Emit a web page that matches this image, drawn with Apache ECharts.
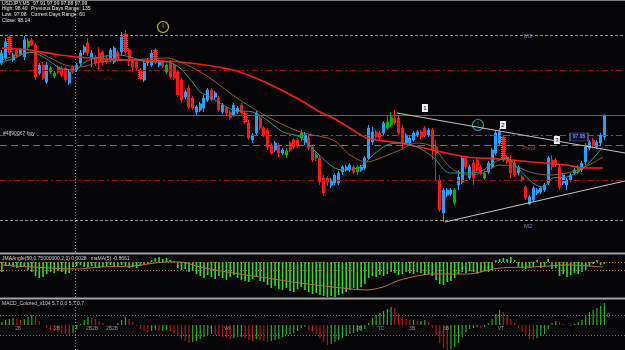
<!DOCTYPE html>
<html><head><meta charset="utf-8">
<script src="https://cdn.jsdelivr.net/npm/echarts/dist/echarts.min.js"></script>
<style>html,body{margin:0;padding:0;background:#050507;}#c{width:625px;height:350px;}</style>
</head><body><div id="c"></div>
<script>
// ---- USDJPY M5 candles ----
const open = [
98.094,98.104,98.146,98.100,98.120,98.112,98.106,98.126,98.140,98.130,
98.074,98.090,98.056,98.076,98.068,98.086,98.084,98.084,98.054,98.086,
98.080,98.094,98.116,98.134,98.104,98.106,98.114,98.116,98.104,98.100,
98.096,98.116,98.116,98.152,98.120,98.100,98.096,98.080,98.060,98.094,
98.090,98.120,98.090,98.096,98.076,98.094,98.090,98.076,98.060,98.026,
98.044,98.024,97.996,98.000,98.004,98.020,98.040,98.026,98.024,97.996,
98.004,97.996,97.990,97.996,98.010,97.994,97.974,97.940,97.954,97.984,
97.964,97.960,97.930,97.920,97.930,97.914,97.910,97.934,97.940,97.940,
97.944,97.936,97.944,97.926,97.904,97.904,97.864,97.864,97.850,97.854,
97.854,97.876,97.880,97.880,97.886,97.876,97.880,97.884,97.904,97.936,
97.956,97.954,97.954,97.964,97.970,97.984,97.984,97.964,97.934,97.934,
97.940,97.950,97.956,97.964,97.950,97.960,97.926,97.860,97.794,97.830,
97.832,97.814,97.850,97.856,97.904,97.864,97.894,97.900,97.886,97.864,
97.876,97.886,97.914,97.934,97.946,97.906,97.900,97.894,97.874,97.866,
97.846,97.812,97.820,97.834,97.836,97.840,97.854,97.900,97.900,97.886,
97.854,97.850,97.860,97.874,97.876,97.880,97.896,97.924,97.940,97.926,
97.934,97.946];
const close = [
98.114,98.136,98.114,98.110,98.108,98.120,98.140,98.138,98.130,98.066,
98.090,98.064,98.090,98.084,98.074,98.076,98.070,98.060,98.076,98.076,
98.090,98.114,98.126,98.114,98.114,98.094,98.096,98.094,98.096,98.120,
98.124,98.100,98.146,98.116,98.100,98.086,98.084,98.064,98.094,98.100,
98.114,98.096,98.096,98.088,98.090,98.066,98.064,98.030,98.020,98.036,
98.006,98.004,98.006,98.012,98.024,98.040,98.020,98.034,98.000,98.010,
97.994,97.984,98.010,98.004,97.994,97.976,97.944,97.950,97.994,97.964,
97.950,97.926,97.914,97.934,97.914,97.920,97.918,97.920,97.926,97.928,
97.954,97.950,97.924,97.900,97.910,97.856,97.834,97.856,97.860,97.870,
97.874,97.886,97.886,97.890,97.876,97.886,97.886,97.904,97.964,97.956,
97.946,97.944,97.974,97.976,97.986,97.974,97.954,97.934,97.950,97.944,
97.954,97.956,97.946,97.950,97.960,97.920,97.914,97.800,97.840,97.840,
97.840,97.840,97.866,97.904,97.886,97.886,97.864,97.880,97.874,97.874,
97.894,97.920,97.954,97.956,97.900,97.896,97.874,97.870,97.886,97.860,
97.824,97.826,97.844,97.840,97.844,97.850,97.904,97.886,97.890,97.846,
97.870,97.860,97.870,97.880,97.886,97.894,97.926,97.936,97.930,97.936,
97.950,97.990];
const low = [
98.090,98.100,98.110,98.096,98.104,98.108,98.100,98.120,98.128,98.060,
98.070,98.060,98.052,98.072,98.064,98.072,98.066,98.056,98.050,98.072,
98.076,98.088,98.110,98.108,98.086,98.088,98.080,98.090,98.092,98.096,
98.092,98.096,98.108,98.110,98.088,98.076,98.080,98.060,98.056,98.088,
98.086,98.092,98.086,98.084,98.072,98.062,98.060,98.026,98.014,98.022,
98.002,98.000,97.990,97.996,97.996,98.016,98.016,98.022,97.996,97.992,
97.990,97.980,97.986,97.992,97.990,97.972,97.940,97.934,97.950,97.960,
97.946,97.920,97.910,97.916,97.906,97.910,97.904,97.916,97.922,97.924,
97.938,97.930,97.920,97.896,97.898,97.850,97.828,97.848,97.844,97.850,
97.850,97.870,97.876,97.876,97.872,97.870,97.876,97.880,97.900,97.930,
97.942,97.940,97.950,97.960,97.966,97.970,97.950,97.920,97.930,97.930,
97.936,97.946,97.942,97.946,97.946,97.900,97.860,97.796,97.776,97.826,
97.828,97.810,97.840,97.852,97.882,97.860,97.850,97.876,97.870,97.860,
97.872,97.882,97.910,97.928,97.896,97.892,97.864,97.866,97.870,97.856,
97.820,97.810,97.816,97.830,97.832,97.836,97.850,97.880,97.886,97.840,
97.850,97.840,97.856,97.870,97.872,97.876,97.890,97.920,97.926,97.922,
97.930,97.940];
const high = [
98.120,98.144,98.150,98.114,98.124,98.124,98.148,98.144,98.144,98.134,
98.094,98.096,98.096,98.088,98.078,98.090,98.088,98.088,98.080,98.090,
98.094,98.120,98.130,98.144,98.120,98.110,98.126,98.120,98.110,98.124,
98.128,98.120,98.156,98.160,98.124,98.104,98.100,98.084,98.100,98.104,
98.120,98.124,98.100,98.100,98.094,98.100,98.094,98.080,98.064,98.040,
98.050,98.028,98.010,98.016,98.030,98.044,98.044,98.038,98.028,98.014,
98.008,98.000,98.014,98.008,98.014,97.998,97.980,97.954,98.000,97.988,
97.968,97.964,97.934,97.938,97.934,97.924,97.924,97.938,97.944,97.944,
97.960,97.956,97.948,97.930,97.916,97.908,97.870,97.868,97.864,97.874,
97.878,97.890,97.890,97.894,97.890,97.890,97.890,97.908,97.970,97.966,
97.960,97.958,97.978,97.990,97.996,98.000,97.990,97.970,97.954,97.948,
97.958,97.960,97.960,97.968,97.964,97.964,97.940,97.870,97.844,97.844,
97.844,97.844,97.880,97.908,97.908,97.890,97.900,97.904,97.890,97.878,
97.898,97.924,97.960,97.964,97.950,97.910,97.910,97.898,97.890,97.870,
97.850,97.830,97.848,97.844,97.848,97.854,97.908,97.910,97.904,97.890,
97.874,97.864,97.874,97.884,97.890,97.898,97.934,97.940,97.944,97.940,
97.954,97.990];
const greenBars = [7,13,14,44,76,80,84,95,103,104,121,129,154];
const ladderBars = [2,33,37,41,65,134];

// moving averages read as [bar index, price]
const maSlow = [[0,98.124],[7.5,98.120],[15.5,98.110],[23.5,98.104],[34.2,98.100],[47.6,98.096],[61.8,98.080],[70.8,98.054],[79.7,98.020],[85,97.996],[88.5,97.984],[93,97.964],[97.5,97.944],[106.4,97.934],[115.2,97.920],[124.3,97.906],[133.1,97.902],[141.9,97.896],[151,97.890],[155.3,97.884],[160.6,97.884]];
const maMid = [[0,98.100],[3.5,98.108],[8.9,98.116],[12.9,98.104],[16.9,98.090],[20.9,98.086],[26.2,98.096],[34.2,98.100],[44.1,98.104],[49.5,98.090],[53,98.076],[55.6,98.064],[63.6,98.020],[71.6,97.984],[79.7,97.956],[88.5,97.940],[93,97.910],[97.5,97.896],[101.8,97.906],[106.4,97.920],[110.9,97.934],[115.2,97.926],[119.7,97.886],[124.3,97.870],[128.5,97.874],[133.1,97.890],[137.6,97.886],[141.9,97.874],[146.4,97.870],[151,97.874],[155.3,97.884],[160.6,97.906]];
const maFast = [[0,98.096],[3.5,98.104],[7.5,98.116],[11.5,98.104],[15.5,98.084],[19.5,98.080],[22.2,98.096],[26.2,98.106],[31.6,98.110],[34.2,98.106],[39.6,98.096],[44.1,98.096],[47.6,98.084],[51.1,98.054],[53,98.036],[55.6,98.026],[61.8,98.000],[67.1,97.996],[70.8,97.980],[75.1,97.956],[79.7,97.946],[84.2,97.914],[88.5,97.886],[91.1,97.880],[95.7,97.886],[99.2,97.910],[102.9,97.930],[106.4,97.934],[110.9,97.926],[115.2,97.906],[119.7,97.874],[124.3,97.874],[127.7,97.876],[131.2,97.894],[135,97.904],[137.6,97.886],[141.9,97.854],[144.6,97.846],[147.2,97.864],[151,97.866],[154.5,97.880],[157.1,97.896],[160.6,97.926]];
const trendUpper = [[105.6,97.994],[166.5,97.914]];
const trendLower = [[118.4,97.776],[166.5,97.858]];
const levels = {m3:98.154, r1:98.080, bid:97.990, buy:97.946, pivot:97.930, s1:97.856, m2:97.776};

// JMA angle histogram + its MA
const jma = [
-1.0,-0.4,-0.3,-0.5,-0.6,-0.5,-0.4,-0.8,-1.0,-1.4,
-1.6,-1.5,-1.2,-1.0,-1.1,-0.9,-1.0,-1.2,-1.1,-0.5,
-0.4,-0.3,-0.5,-0.6,-0.4,-0.5,-0.6,-0.5,-0.4,-0.3,
-0.5,-0.4,-0.3,-0.4,-0.6,-0.5,-0.6,-0.4,-0.3,-0.2,
0.2,0.4,0.5,0.3,0.4,0.2,0.1,-0.6,-0.8,-0.7,
-1.0,-0.9,-1.2,-1.4,-1.6,-1.3,-1.5,-1.7,-1.4,-1.6,
-1.8,-1.5,-1.3,-1.6,-1.8,-1.9,-2.0,-1.7,-1.5,-1.9,
-2.0,-2.3,-2.6,-2.4,-2.7,-2.8,-2.6,-2.9,-3.0,-2.7,
-2.5,-2.8,-3.0,-3.2,-3.1,-3.3,-3.4,-3.5,-3.4,-3.5,
-3.3,-3.2,-3.0,-2.8,-2.6,-2.7,-2.5,-2.2,-1.6,-1.4,
-1.5,-1.3,-1.4,-1.2,-1.0,-1.1,-1.3,-1.2,-1.0,-1.1,
-1.2,-1.0,-1.1,-1.3,-1.2,-1.4,-1.8,-2.2,-2.3,-2.0,
-1.9,-1.6,-1.2,-1.0,-1.1,-0.9,-1.0,-1.2,-1.0,-0.9,
-1.0,-0.8,0.2,0.3,0.4,0.3,0.5,0.2,-0.5,-0.6,
-0.7,-0.6,-0.5,0.2,-0.6,-0.5,0.3,-0.7,-0.6,-1.4,
-1.2,-1.5,-1.3,-1.1,-1.2,-1.0,-0.8,-0.4,-0.2,0.2,
-0.3,-0.2];
const jmaMA = [[0,-0.3],[8.3,-0.5],[20.1,-0.7],[26.2,-0.5],[35,-0.4],[44.1,0],[47.6,0],[53,-0.5],[61.8,-1.1],[70.8,-1.6],[79.7,-2.1],[88.5,-2.5],[97.5,-2.8],[101.8,-2.5],[106.4,-1.8],[115.2,-1.2],[124.3,-1.2],[133.1,-0.6],[141.9,-0.5],[151,-0.3],[160.6,-0.5]];
const jmaLevels = [0, -0.8];

// MACD histogram
const macd = [
0.003,0.005,0.006,0.007,0.006,0.005,0.006,0.008,0.010,0.009,
0.004,0.000,-0.003,-0.005,-0.006,-0.007,-0.008,-0.009,-0.010,-0.008,
-0.004,0.001,0.005,0.008,0.007,0.006,0.004,0.002,0.000,-0.001,
0.000,0.002,0.005,0.008,0.006,0.003,-0.001,-0.004,-0.006,-0.007,
-0.006,-0.005,-0.006,-0.006,-0.005,-0.006,-0.008,-0.011,-0.014,-0.016,
-0.018,-0.017,-0.016,-0.014,-0.012,-0.010,-0.009,-0.010,-0.011,-0.012,
-0.013,-0.014,-0.013,-0.012,-0.012,-0.013,-0.015,-0.016,-0.014,-0.015,
-0.016,-0.017,-0.016,-0.015,-0.014,-0.012,-0.010,-0.009,-0.008,-0.006,
-0.003,-0.002,-0.005,-0.007,-0.009,-0.013,-0.017,-0.020,-0.019,-0.017,
-0.015,-0.013,-0.011,-0.009,-0.008,-0.007,-0.006,-0.004,0.002,0.007,
0.010,0.012,0.014,0.016,0.018,0.017,0.012,0.008,0.006,0.005,
0.005,0.004,0.004,0.005,0.003,-0.003,-0.010,-0.018,-0.023,-0.025,
-0.024,-0.022,-0.018,-0.012,-0.007,-0.004,-0.003,-0.002,-0.003,-0.002,
0.002,0.006,0.011,0.015,0.013,0.010,0.006,0.002,-0.003,-0.007,
-0.011,-0.014,-0.015,-0.013,-0.011,-0.009,-0.004,0.002,0.004,0.003,
0.001,0.000,-0.001,0.001,0.003,0.005,0.009,0.013,0.015,0.017,
0.019,0.022];
const macdLevels = [0.012, -0.012];
const periodSep = 19.5;

const infoLeft = ['USDJPY,M5', 'High: 98.40', 'Low: 97.08', 'Close: 98.14'];
const infoMid = ['97.91 97.99 97.88 97.99', 'Previous Days Range: 135', 'Current Days Range: 60'];
const jmaTitle = 'JMAAngle(50,0.75000000,2,0) 0.0028   maMA(5) -0.8661';
const macdTitle = 'MACD_Colored_v104 5,7 0,0 5,7 0,7';
const macdTags = [['28',18],['2B',57],['2B2B',92],['2B2B',112],['V8',227],['3B',359],['TC',381],['3B',412],['3B',446],['VT',501]];

// ---- build chart ----
const FONT = '"Liberation Sans", Arial, sans-serif';
const N = open.length, SLOTS = N + 5;
const cats = Array.from({length: SLOTS}, (_, i) => String(i));
const BULL = '#1ea2ff', BEAR = '#ff1414', GREEN = '#00b400';

const candleData = open.map((o, i) => {
  const it = {value: [o, close[i], low[i], high[i]]};
  if (greenBars.includes(i)) it.itemStyle = {color: GREEN, color0: GREEN, borderColor: GREEN, borderColor0: GREEN};
  return it;
});
const ladderData = ladderBars.map(i => [i, Math.min(open[i], close[i]), Math.max(open[i], close[i])]);
const macdData = macd.map((v, i) => ({value: v, itemStyle: {color: (i === 0 || v >= macd[i - 1]) ? '#22b022' : '#b81414'}}));

function hl(v, color, type) { return {yAxis: v, lineStyle: {color: color, type: type, width: 1}}; }
const DASHDOT = [6, 3, 2, 3];

function txt(t, x, y, color, size, align) {
  return {type: 'text', silent: true, z: 50, style: {text: t, x: x, y: y, fill: color, font: size + 'px ' + FONT, verticalAlign: 'middle', align: align || 'left'}};
}
const graphics = [
  {type: 'rect', silent: true, z: 40, shape: {x: 0, y: 0, width: 625, height: 1}, style: {fill: '#7a7a7a'}},
  {type: 'rect', silent: true, z: 40, shape: {x: 0, y: 252.5, width: 625, height: 2}, style: {fill: '#a4a4a4'}},
  {type: 'rect', silent: true, z: 40, shape: {x: 0, y: 297.5, width: 625, height: 2}, style: {fill: '#a4a4a4'}},
];
infoLeft.forEach((t, k) => graphics.push(txt(t, 2, 3.5 + k * 5.6, '#e8e8e8', 5)));
infoMid.forEach((t, k) => graphics.push(txt(t, k === 0 ? 33 : 31, 3.5 + k * 5.6, '#e8e8e8', 5)));
graphics.push(txt('#4890067 buy', 3, 134, '#c8c8c8', 5));
graphics.push(txt(jmaTitle, 2, 258.5, '#d0d0d0', 5));
graphics.push(txt(macdTitle, 2, 304, '#d0d0d0', 5));
graphics.push(txt('0', 607, 316, '#9a9a9a', 5));
macdTags.forEach(([t, x]) => graphics.push(txt(t, x, 329, '#8c8c8c', 5, 'center')));

function noteBox(t, coord) {
  return {coord: coord, symbol: 'rect', symbolSize: [6, 8], itemStyle: {color: '#f4f4f4'},
    label: {show: true, position: 'inside', formatter: t, color: '#000', fontSize: 6, fontFamily: FONT}};
}
function noteText(t, coord, color, size) {
  return {coord: coord, symbol: 'rect', symbolSize: 1, itemStyle: {color: 'rgba(0,0,0,0)'},
    label: {show: true, position: 'inside', formatter: t, color: color, fontSize: size, fontFamily: FONT}};
}
function noteCircle(coord, color) {
  return {coord: coord, symbol: 'circle', symbolSize: 11, itemStyle: {color: 'rgba(0,0,0,0)', borderColor: color, borderWidth: 1.2},
    label: {show: true, position: 'inside', formatter: '|', color: color, fontSize: 6, offset: [0, -1.5], fontFamily: FONT}};
}

const option = {
  backgroundColor: '#050507',
  animation: false,
  graphic: graphics,
  grid: [
    {left: 0, right: 0, top: 0, height: 252},
    {left: 0, right: 0, top: 255, height: 42},
    {left: 0, right: 0, top: 300, height: 50}
  ],
  xAxis: [
    {type: 'category', gridIndex: 0, data: cats, show: false},
    {type: 'value', gridIndex: 0, min: -0.5, max: SLOTS - 0.5, show: false},
    {type: 'category', gridIndex: 1, data: cats, show: false},
    {type: 'value', gridIndex: 1, min: -0.5, max: SLOTS - 0.5, show: false},
    {type: 'category', gridIndex: 2, data: cats, show: false},
    {type: 'value', gridIndex: 2, min: -0.5, max: SLOTS - 0.5, show: false}
  ],
  yAxis: [
    {gridIndex: 0, min: 97.716, max: 98.22, show: false},
    {gridIndex: 1, min: -3.5, max: 0.7, show: false},
    {gridIndex: 2, min: -0.025, max: 0.025, show: false}
  ],
  series: [
    {name: 'levels', type: 'line', xAxisIndex: 1, yAxisIndex: 0, data: [], z: 1, silent: true,
      markLine: {silent: true, symbol: ['none', 'none'], label: {show: false}, animation: false,
        data: [
          hl(levels.m3, '#8a8a8a', [3, 2]),
          hl(levels.r1, '#9a1010', DASHDOT),
          hl(levels.bid, '#5e5e5e', 'solid'),
          hl(levels.buy, '#2e7d2e', DASHDOT),
          hl(levels.pivot, '#9a5a50', [7, 4]),
          hl(levels.s1, '#9a1010', DASHDOT),
          hl(levels.m2, '#8a8a8a', [3, 2]),
          {xAxis: periodSep, lineStyle: {color: '#8a8a8a', type: [1, 2], width: 1}}
        ]}},
    {name: 'USDJPY', type: 'candlestick', xAxisIndex: 0, yAxisIndex: 0, data: candleData, barWidth: 2.5, z: 3,
      itemStyle: {color: BULL, color0: BEAR, borderColor: BULL, borderColor0: BEAR, borderWidth: 1}},
    {name: 'ladder', type: 'custom', xAxisIndex: 0, yAxisIndex: 0, data: ladderData, z: 4, encode: {x: 0, y: [1, 2]},
      renderItem: function (params, api) {
        const t = api.coord([api.value(0), api.value(2)]);
        const b = api.coord([api.value(0), api.value(1)]);
        const ch = [];
        for (let y = Math.round(t[1]) + 0.5; y <= b[1] + 0.5; y += 2) {
          ch.push({type: 'line', shape: {x1: t[0] - 2.5, y1: y, x2: t[0] + 2.5, y2: y}, style: {stroke: '#ff2a2a', lineWidth: 1}});
        }
        return {type: 'group', children: ch};
      }},
    {name: 'MA slow', type: 'line', xAxisIndex: 1, yAxisIndex: 0, data: maSlow, smooth: 0.3, showSymbol: false, z: 5,
      lineStyle: {color: '#ff1a1a', width: 1.6}},
    {name: 'MA mid', type: 'line', xAxisIndex: 1, yAxisIndex: 0, data: maMid, smooth: 0.3, showSymbol: false, z: 5,
      lineStyle: {color: '#a0522d', width: 1}},
    {name: 'MA fast', type: 'line', xAxisIndex: 1, yAxisIndex: 0, data: maFast, smooth: 0.3, showSymbol: false, z: 5,
      lineStyle: {color: '#1f9e8c', width: 1}},
    {name: 'trend upper', type: 'line', xAxisIndex: 1, yAxisIndex: 0, data: trendUpper, showSymbol: false, z: 5,
      lineStyle: {color: '#c4c4c4', width: 1}},
    {name: 'trend lower', type: 'line', xAxisIndex: 1, yAxisIndex: 0, data: trendLower, showSymbol: false, z: 5,
      lineStyle: {color: '#c4c4c4', width: 1},
      markPoint: {silent: true, animation: false, data: [
        noteBox('1', [113.05, 98.004]),
        noteBox('2', [133.9, 97.970]),
        noteBox('3', [148.3, 97.940]),
        {coord: [154.2, 97.946], symbol: 'rect', symbolSize: [18, 8], itemStyle: {color: '#0b1026', borderColor: '#4a68b8', borderWidth: 1},
          label: {show: true, position: 'inside', formatter: '97.95', color: '#9fb8ff', fontSize: 5, fontFamily: FONT}},
        noteText('M3', [140.6, 98.148], '#8c7fb0', 6),
        noteText('M2', [140.6, 97.768], '#8c7fb0', 6),
        noteText('Pivot', [140.8, 97.924], '#a85040', 6),
        noteCircle([43.05, 98.166], '#c8c800'),
        noteCircle([127.2, 97.970], '#20a8a8')
      ]}},
    {name: 'JMAAngle', type: 'bar', xAxisIndex: 2, yAxisIndex: 1, data: jma, barWidth: 1.6, z: 3,
      itemStyle: {color: '#2bdc2b'}},
    {name: 'maMA', type: 'line', xAxisIndex: 3, yAxisIndex: 1, data: jmaMA, smooth: 0.3, showSymbol: false, z: 5,
      lineStyle: {color: '#c0703a', width: 1},
      markLine: {silent: true, symbol: ['none', 'none'], label: {show: false}, animation: false,
        data: jmaLevels.map(v => ({yAxis: v, lineStyle: {color: '#b8682c', type: [1, 2], width: 1}}))
          .concat([{xAxis: periodSep, lineStyle: {color: '#8a8a8a', type: [1, 2], width: 1}}])}},
    {name: 'MACD', type: 'bar', xAxisIndex: 4, yAxisIndex: 2, data: macdData, barWidth: 1.2, z: 3},
    {name: 'MACD levels', type: 'line', xAxisIndex: 5, yAxisIndex: 2, data: [], z: 1,
      markLine: {silent: true, symbol: ['none', 'none'], label: {show: false}, animation: false,
        data: macdLevels.map(v => ({yAxis: v, lineStyle: {color: '#6e6e6e', type: [1, 2], width: 1}}))
          .concat([{xAxis: periodSep, lineStyle: {color: '#8a8a8a', type: [1, 2], width: 1}}])}}
  ]
};
const chart = echarts.init(document.getElementById('c'));
chart.setOption(option);
</script></body></html>
